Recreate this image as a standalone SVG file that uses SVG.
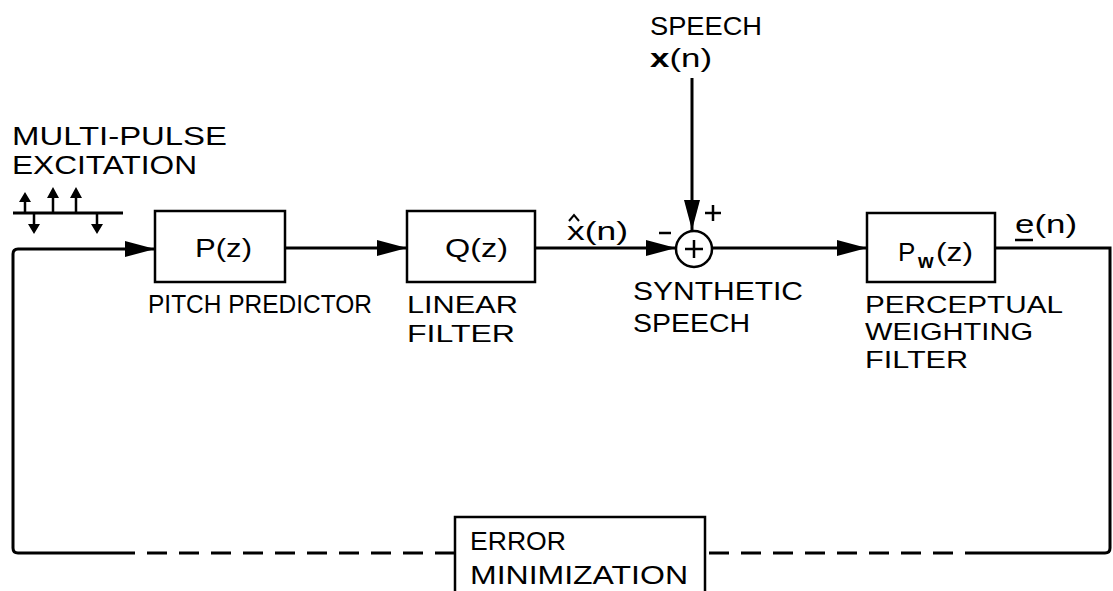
<svg xmlns="http://www.w3.org/2000/svg" width="1113" height="591" viewBox="0 0 1113 591">
<style>
text{font-family:"Liberation Sans",Arial,sans-serif;font-size:26px;fill:#000}
.sm{font-size:24.5px}
.box{fill:#fff;stroke:#000;stroke-width:2.5}
.ln{fill:none;stroke:#000;stroke-width:3}
.dash{fill:none;stroke:#000;stroke-width:3;stroke-dasharray:20 12}
.pl{stroke:#000;stroke-width:2.5;fill:none}
</style>
<defs>
<marker id="ah" viewBox="0 0 30 18" refX="30" refY="9" markerWidth="30" markerHeight="18" markerUnits="userSpaceOnUse" orient="auto">
<path d="M0,1 L30,9 L0,17 Z" fill="#000"/>
</marker>
</defs>
<g id="connectors">
<path class="ln" d="M135,553 L18,553 Q13,553 13,548 L13,254 Q13,249 18,249 L155,249" marker-end="url(#ah)"/>
<path class="dash" d="M455,553 L135,553"/>
<path class="ln" d="M285,248 L407,248" marker-end="url(#ah)"/>
<path class="ln" d="M535,248 L676,248" marker-end="url(#ah)"/>
<path class="ln" d="M692,78 L692,230" marker-end="url(#ah)"/>
<path class="ln" d="M712,248 L867,248" marker-end="url(#ah)"/>
<path class="ln" d="M995,248 L1110,248 L1110,548 Q1110,553 1105,553 L985,553"/>
<path class="dash" d="M985,553 L705,553"/>
</g>
<g id="excitation">
<text x="12" y="145" textLength="215" lengthAdjust="spacingAndGlyphs">MULTI-PULSE</text>
<text x="12" y="174" textLength="185" lengthAdjust="spacingAndGlyphs">EXCITATION</text>
<path class="ln" d="M13,213 L123,213"/>
<path class="pl" d="M25,213 L25,198 M53,213 L53,194 M76,213 L76,194 M34,213 L34,226 M97,213 L97,226"/>
<path d="M19,202 L25,192 L31,202 Z M47,198 L53,187 L59,198 Z M70,198 L76,187 L82,198 Z M28,224 L34,234 L40,224 Z M91,224 L97,234 L103,224 Z" fill="#000"/>
</g>
<g id="speech-input">
<text x="650" y="35" textLength="112" lengthAdjust="spacingAndGlyphs">SPEECH</text>
<text x="650" y="67" textLength="62" lengthAdjust="spacingAndGlyphs"><tspan font-weight="bold">x</tspan>(n)</text>
</g>
<g id="pitch-predictor">
<rect class="box" x="155" y="211" width="130" height="71"/>
<text x="195" y="257" textLength="57" lengthAdjust="spacingAndGlyphs">P(z)</text>
<text x="148" y="313" textLength="224" lengthAdjust="spacingAndGlyphs">PITCH PREDICTOR</text>
</g>
<g id="linear-filter">
<rect class="box" x="407" y="211" width="128" height="71"/>
<text x="445" y="257" textLength="63" lengthAdjust="spacingAndGlyphs">Q(z)</text>
<text class="sm" x="407" y="313" textLength="111" lengthAdjust="spacingAndGlyphs">LINEAR</text>
<text class="sm" x="407" y="342" textLength="108" lengthAdjust="spacingAndGlyphs">FILTER</text>
<text x="567" y="240" textLength="61" lengthAdjust="spacingAndGlyphs">x(n)</text>
<path d="M569,221 L574,215 L579,221" stroke="#000" stroke-width="2" fill="none"/>
</g>
<g id="summer">
<circle cx="694" cy="249" r="18" fill="#fff" stroke="#000" stroke-width="2.5"/>
<path d="M694,240 L694,258 M685,249 L703,249" stroke="#000" stroke-width="2.5"/>
<path d="M659,233 L671,233" stroke="#000" stroke-width="2.5"/>
<path d="M713,205 L713,221 M705,213 L721,213" stroke="#000" stroke-width="2.5"/>
<text x="633" y="300" textLength="170" lengthAdjust="spacingAndGlyphs">SYNTHETIC</text>
<text x="633" y="332" textLength="117" lengthAdjust="spacingAndGlyphs">SPEECH</text>
</g>
<g id="perceptual-filter">
<rect class="box" x="867" y="213" width="128" height="69"/>
<text x="898" y="261" font-size="28">P<tspan x="918" y="268" font-size="20" font-weight="bold">w</tspan><tspan x="936" y="261" textLength="37" lengthAdjust="spacingAndGlyphs">(z)</tspan></text>
<text x="1015" y="233" textLength="62" lengthAdjust="spacingAndGlyphs">e(n)</text>
<path d="M1015,240 L1033,240" stroke="#000" stroke-width="2.5"/>
<text class="sm" x="865" y="313" textLength="198" lengthAdjust="spacingAndGlyphs">PERCEPTUAL</text>
<text class="sm" x="865" y="340" textLength="168" lengthAdjust="spacingAndGlyphs">WEIGHTING</text>
<text class="sm" x="865" y="368" textLength="103" lengthAdjust="spacingAndGlyphs">FILTER</text>
</g>
<g id="error-minimization">
<rect class="box" x="455" y="517" width="250" height="80"/>
<text x="470" y="550" textLength="96" lengthAdjust="spacingAndGlyphs">ERROR</text>
<text x="470" y="584" textLength="218" lengthAdjust="spacingAndGlyphs">MINIMIZATION</text>
</g>
</svg>
